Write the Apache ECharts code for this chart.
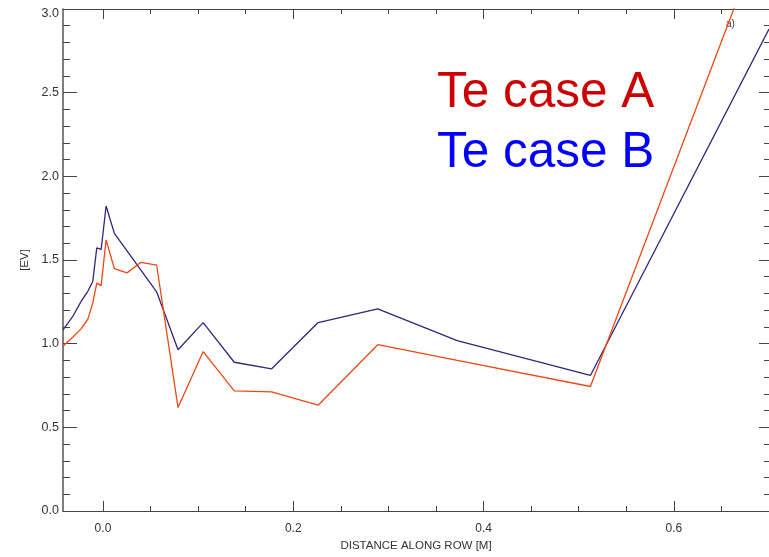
<!DOCTYPE html>
<html>
<head>
<meta charset="utf-8">
<script src="https://cdn.jsdelivr.net/npm/echarts@6/dist/echarts.min.js"></script>
<style>html,body{margin:0;padding:0;background:#fff}#c{width:769px;height:557px}</style>
</head>
<body>
<div id="c"></div>
<script>
// Distance along row [m]
const distance = [-0.042, -0.0315, -0.0228, -0.0159, -0.0107, -0.0065, -0.0019, 0.0033, 0.012, 0.0253, 0.0399, 0.0564, 0.0789, 0.1053, 0.138, 0.1773, 0.2261, 0.2888, 0.3723, 0.5123, 0.70];
// Te case A [eV]
const teCaseA = [0.984, 1.04, 1.09, 1.146, 1.244, 1.362, 1.347, 1.620, 1.448, 1.423, 1.486, 1.470, 0.618, 0.953, 0.718, 0.712, 0.632, 0.994, 0.90, 0.744, 3.554];
// Te case B [eV]
const teCaseB = [1.083, 1.165, 1.254, 1.313, 1.372, 1.573, 1.563, 1.823, 1.659, 1.554, 1.439, 1.31, 0.964, 1.126, 0.889, 0.850, 1.126, 1.208, 1.018, 0.810, 2.88];
const xMajorTicks = [0.0, 0.2, 0.4, 0.6];
const xMinorTicks = [0.05, 0.1, 0.15, 0.25, 0.3, 0.35, 0.45, 0.5, 0.55, 0.65];
const legendLabels = ['Te case A', 'Te case B'];

const xMin = -0.042, xMax = 0.70;
const axisColor = '#444';
const font = 'Liberation Sans, Arial, Helvetica, sans-serif';

function xAxisDef(pos, major, showLabel, name) {
  return {
    type: 'value', position: pos, min: xMin, max: xMax,
    name: name || '', nameLocation: 'middle', nameGap: 29,
    nameTextStyle: { color: '#333', fontSize: 11.5, fontFamily: font },
    axisLine: { show: major, onZero: false, lineStyle: { color: axisColor, width: 1 } },
    axisTick: { show: true, inside: true, length: major ? 10 : 5,
      customValues: major ? xMajorTicks : xMinorTicks,
      lineStyle: { color: axisColor, width: 1 } },
    axisLabel: { show: showLabel, customValues: xMajorTicks, margin: 12,
      color: '#333', fontSize: 12, fontFamily: font,
      formatter: v => v.toFixed(1) },
    splitLine: { show: false }
  };
}

const chart = echarts.init(document.getElementById('c'), null, { renderer: 'canvas' });
chart.setOption({
  backgroundColor: '#fff',
  animation: false,
  grid: { left: 63, right: -4, top: 9, bottom: 40, containLabel: false },
  xAxis: [
    xAxisDef('bottom', true, true, 'DISTANCE ALONG ROW [M]'),
    xAxisDef('bottom', false, false),
    xAxisDef('top', true, false),
    xAxisDef('top', false, false)
  ],
  yAxis: [
    {
      type: 'value', position: 'left', min: 0, max: 3, interval: 0.5,
      name: '[EV]', nameLocation: 'middle', nameGap: 32,
      nameTextStyle: { color: '#333', fontSize: 11.5, fontFamily: font },
      axisLine: { show: true, onZero: false, lineStyle: { color: '#555', width: 1.5 } },
      axisTick: { show: true, inside: true, length: 14, lineStyle: { color: axisColor } },
      minorTick: { show: true, splitNumber: 5, length: 7, lineStyle: { color: axisColor } },
      axisLabel: { margin: 4, color: '#333', fontSize: 12.5, fontFamily: font,
        formatter: v => (v === 3 ? '{t|' + v.toFixed(1) + '}' : v.toFixed(1)),
        rich: { t: { padding: [10, 0, 0, 0], color: '#333', fontSize: 12.5, fontFamily: font } } },
      splitLine: { show: false }, minorSplitLine: { show: false }
    },
    {
      type: 'value', position: 'right', min: 0, max: 3, interval: 0.5,
      axisLine: { show: true, onZero: false, lineStyle: { color: axisColor } },
      axisTick: { show: true, inside: true, length: 10, lineStyle: { color: axisColor } },
      minorTick: { show: true, splitNumber: 5, length: 5, lineStyle: { color: axisColor } },
      axisLabel: { show: false },
      splitLine: { show: false }, minorSplitLine: { show: false }
    }
  ],
  series: [
    {
      name: legendLabels[0], type: 'line', xAxisIndex: 0, yAxisIndex: 0,
      data: distance.map((d, i) => [d, teCaseA[i]]),
      showSymbol: false, symbol: 'none', clip: true,
      lineStyle: { color: '#f04812', width: 1.3 }, z: 3
    },
    {
      name: legendLabels[1], type: 'line', xAxisIndex: 0, yAxisIndex: 0,
      data: distance.map((d, i) => [d, teCaseB[i]]),
      showSymbol: false, symbol: 'none', clip: true,
      lineStyle: { color: '#33257e', width: 1.3 }, z: 2
    }
  ],
  graphic: [
    { type: 'text', x: 437, y: 93, style: { text: legendLabels[0], fill: '#cc0000',
      font: '49.5px "Liberation Sans", Arial, sans-serif', verticalAlign: 'middle' } },
    { type: 'text', x: 437, y: 153, style: { text: legendLabels[1], fill: '#0000ff',
      font: '49.5px "Liberation Sans", Arial, sans-serif', verticalAlign: 'middle' } },
    { type: 'text', x: 726, y: 24, style: { text: 'a)', fill: '#333',
      font: '10px "Liberation Sans", Arial, sans-serif', verticalAlign: 'middle' } }
  ]
});
</script>
</body>
</html>
